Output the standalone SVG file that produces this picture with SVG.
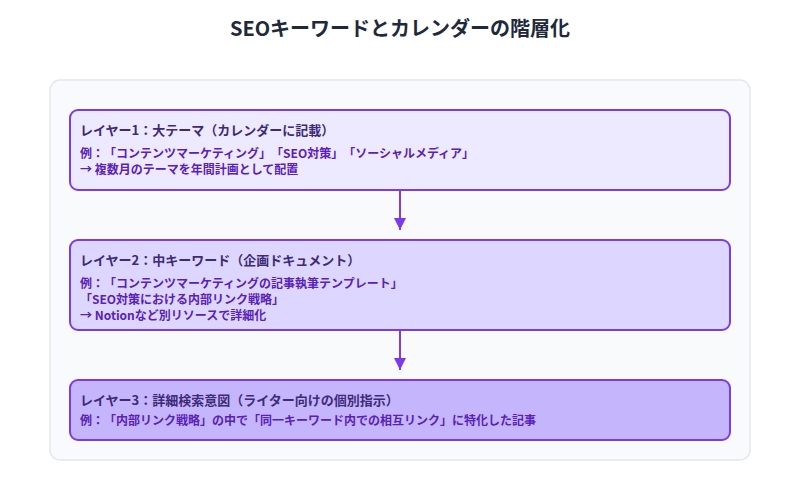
<svg xmlns="http://www.w3.org/2000/svg" width="800" height="500" viewBox="0 0 800 500">
  <defs>
    <marker id="arrow" viewBox="0 0 12 16" refX="12" refY="8" markerWidth="12" markerHeight="16" markerUnits="userSpaceOnUse" orient="auto">
      <path d="M0,8 L12,2 L12,14 Z" transform="rotate(180 6 8)" fill="#7c3aed"/>
    </marker>
    <style>
      text { font-family: "Noto Sans CJK JP", "Noto Sans", sans-serif; text-spacing-trim: space-all; }
      .title { font-size: 20px; font-weight: 700; fill: #1e293b; }
      .box { stroke: #7c3aed; stroke-width: 2; }
      .head { font-size: 13px; font-weight: 700; fill: #3f2a78; }
      .body { font-size: 12px; font-weight: 700; fill: #5b21b6; }
      .conn { stroke: #7c3aed; stroke-width: 2; fill: none; }
    </style>
  </defs>
  <rect width="800" height="500" fill="#ffffff"/>
  <text class="title" x="400" y="36" text-anchor="middle">SEOキーワードとカレンダーの階層化</text>
  <g id="container">
    <rect x="50" y="80" width="700" height="380" rx="10" fill="#f8fafc" stroke="#e2e8f0" stroke-width="1.5"/>
  </g>
  <g id="layer1">
    <rect class="box" x="70" y="110" width="660" height="80" rx="8" fill="#ede9fe"/>
    <text class="head" x="80" y="135">レイヤー1：大テーマ（カレンダーに記載）</text>
    <text class="body" x="80" y="158">例：「コンテンツマーケティング」「SEO対策」「ソーシャルメディア」</text>
    <text class="body" x="80" y="174">→ 複数月のテーマを年間計画として配置</text>
  </g>
  <g id="layer2">
    <rect class="box" x="70" y="240" width="660" height="90" rx="8" fill="#ddd6fe"/>
    <text class="head" x="80" y="265">レイヤー2：中キーワード（企画ドキュメント）</text>
    <text class="body" x="80" y="288">例：「コンテンツマーケティングの記事執筆テンプレート」</text>
    <text class="body" x="80" y="304">「SEO対策における内部リンク戦略」</text>
    <text class="body" x="80" y="320">→ Notionなど別リソースで詳細化</text>
  </g>
  <g id="layer3">
    <rect class="box" x="70" y="380" width="660" height="60" rx="8" fill="#c4b5fd"/>
    <text class="head" x="80" y="405">レイヤー3：詳細検索意図（ライター向けの個別指示）</text>
    <text class="body" x="80" y="425">例：「内部リンク戦略」の中で「同一キーワード内での相互リンク」に特化した記事</text>
  </g>
  <g id="connectors">
    <line class="conn" x1="400" y1="190" x2="400" y2="230" marker-end="url(#arrow)"/>
    <line class="conn" x1="400" y1="330" x2="400" y2="370" marker-end="url(#arrow)"/>
  </g>
</svg>
